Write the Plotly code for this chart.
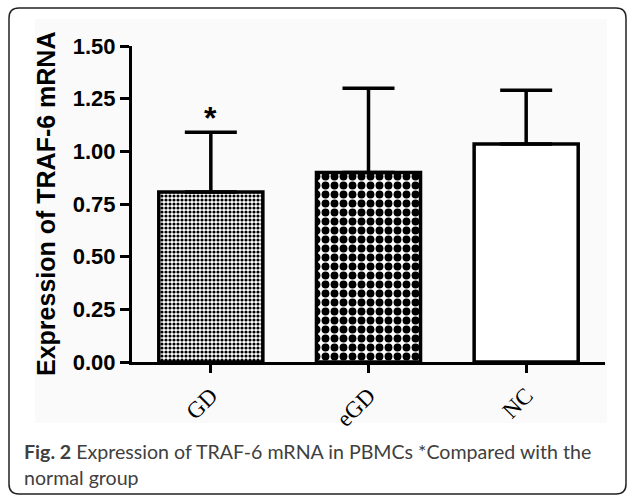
import plotly.graph_objects as go

# ---- data ----
groups = ["GD", "eGD", "NC"]
means = [0.807, 0.90, 1.035]
err_plus = [0.283, 0.40, 0.255]
y_ticks = [0.00, 0.25, 0.50, 0.75, 1.00, 1.25, 1.50]
y_title = "Expression of TRAF-6 mRNA"
caption_1 = "<b>Fig. 2</b> Expression of TRAF-6 mRNA in PBMCs *Compared with the"
caption_2 = "normal group"
sig_marks = ["*", "", ""]

# ---- layout geometry (pixels) ----
W, H = 627, 496
L, R, T, B = 132, 22, 46, 134
pw, ph = W - L - R, H - T - B

def px_x(x):
    return (x - L) / pw

def px_y(y):
    return (H - B - y) / ph

patterns = [
    dict(shape=".", size=4, solidity=0.5, fgcolor="black", bgcolor="white", fgopacity=1),
    dict(shape=".", size=9, solidity=0.6, fgcolor="black", bgcolor="white", fgopacity=1),
    dict(shape="", bgcolor="white"),
]

fig = go.Figure()
for g, m, e, p in zip(groups, means, err_plus, patterns):
    fig.add_trace(go.Bar(
        x=[g], y=[m],
        width=0.66,
        marker=dict(color="white", line=dict(color="black", width=3.5), pattern=p),
        error_y=dict(type="data", symmetric=False, array=[e], arrayminus=[0],
                     color="black", thickness=3.5, width=26),
        showlegend=False,
    ))

for g, m, e, s in zip(groups, means, err_plus, sig_marks):
    if s:
        fig.add_annotation(x=g, y=m + e, xref="x", yref="y", text="<b>" + s + "</b>",
                           showarrow=False, yanchor="bottom", yshift=-6,
                           font=dict(family="Liberation Sans", size=32, color="black"))

fig.add_annotation(text="<b>" + y_title + "</b>", textangle=-90,
                   xref="paper", yref="paper", x=px_x(46), y=0.5,
                   xanchor="center", yanchor="middle", showarrow=False,
                   font=dict(family="Liberation Sans", size=25, color="black"))

fig.add_annotation(text=caption_1, xref="paper", yref="paper",
                   x=px_x(22), y=px_y(451), xanchor="left", yanchor="middle",
                   showarrow=False, align="left",
                   font=dict(family="Lato", size=19.6, color="#404040"))
fig.add_annotation(text=caption_2, xref="paper", yref="paper",
                   x=px_x(22), y=px_y(477), xanchor="left", yanchor="middle",
                   showarrow=False, align="left",
                   font=dict(family="Lato", size=19.6, color="#404040"))

# light background of the embedded chart image
fig.add_shape(type="rect", xref="paper", yref="paper",
              x0=px_x(35), x1=px_x(607), y0=px_y(423), y1=px_y(19),
              fillcolor="#fafafa", line=dict(width=0), layer="below")

# rounded frame
x0, x1, y0, y1 = px_x(9), px_x(626), px_y(494), px_y(8)
rx, ry = 10 / pw, 10 / ph
path = (f"M {x0+rx},{y1} L {x1-rx},{y1} Q {x1},{y1} {x1},{y1-ry} "
        f"L {x1},{y0+ry} Q {x1},{y0} {x1-rx},{y0} "
        f"L {x0+rx},{y0} Q {x0},{y0} {x0},{y0+ry} "
        f"L {x0},{y1-ry} Q {x0},{y1} {x0+rx},{y1} Z")
fig.add_shape(type="path", path=path, xref="paper", yref="paper",
              line=dict(color="#222222", width=1.5), layer="above")

fig.update_layout(
    width=W, height=H,
    margin=dict(l=L, r=R, t=T, b=B),
    paper_bgcolor="white",
    plot_bgcolor="rgba(0,0,0,0)",
)
fig.update_xaxes(range=[-0.5, 2.5], showline=True, linewidth=3, linecolor="black",
                 ticks="outside", ticklen=8, tickwidth=3, tickcolor="black",
                 tickangle=-45, showgrid=False, zeroline=False,
                 tickfont=dict(family="Liberation Serif", size=23, color="black"))
fig.update_yaxes(range=[0, 1.5], tickvals=y_ticks, tickformat=".2f",
                 showline=True, linewidth=3, linecolor="black",
                 ticks="outside", ticklen=9, tickwidth=3, tickcolor="black",
                 showgrid=False, zeroline=False,
                 tickfont=dict(family="Liberation Sans", size=22, color="black",
                               weight="bold"))

fig.write_html("out.html", config={"displayModeBar": False},
               post_script="document.body.style.margin='0';document.body.style.overflow='hidden';")
